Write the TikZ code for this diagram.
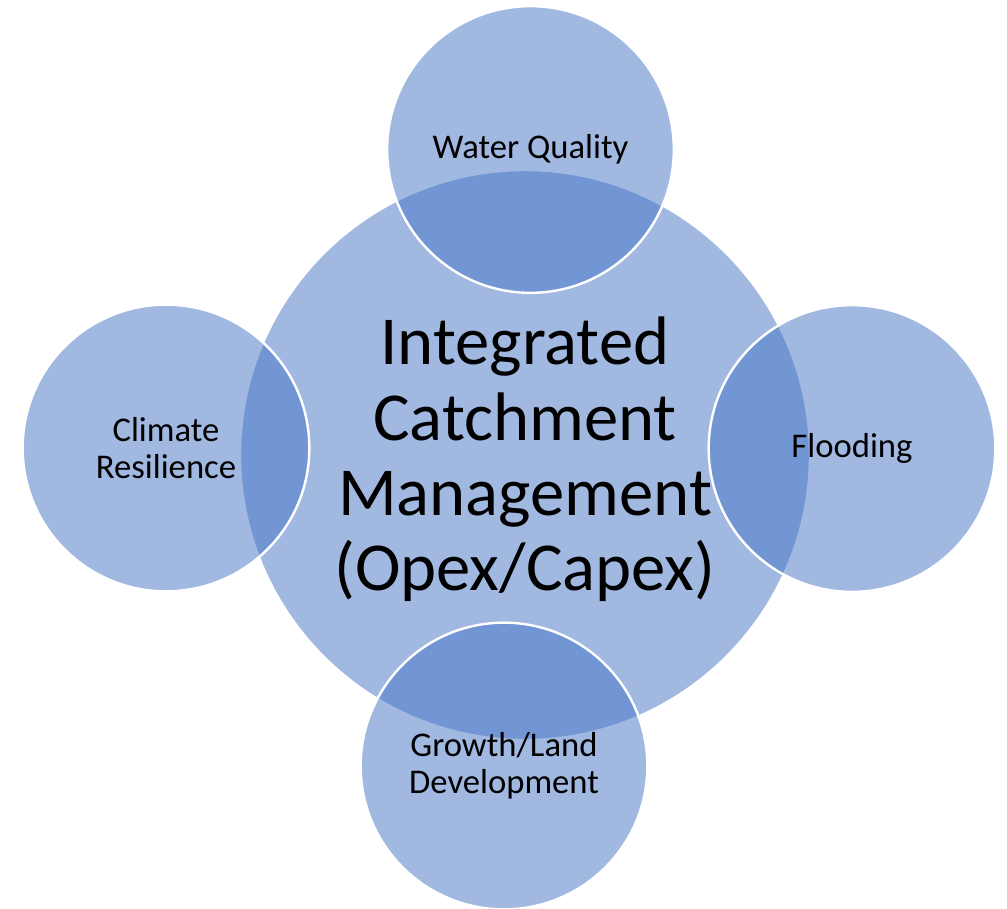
\documentclass[tikz,border=0pt]{standalone}
\usepackage{fontspec}
\setmainfont{Carlito}
\definecolor{catblue}{HTML}{4472C4}
\tikzset{
  bubble/.style={circle, fill=catblue, fill opacity=0.5, text opacity=1,
    draw=white, line width=1.8pt, inner sep=0pt, align=center},
  hubtext/.style={font=\fontsize{51.5}{56.5}\selectfont, align=center},
  leaftext/.style={font=\fontsize{26}{28}\selectfont},
}
\begin{document}
\begin{tikzpicture}[x=0.75pt,y=-0.75pt]
\useasboundingbox (0,0) rectangle (1007,908);

% hub
\node[bubble, minimum size=427.5pt] (hub) at (525,455) {};
\node[hubtext] (hubname) at ([yshift=-3.5pt]hub.center)
  {Integrated\\Catchment\\Management\\(Opex/Capex)};

% satellites
\node[bubble, leaftext, minimum size=215pt] (quality) at (530.5,149.5) {Water Quality};
\node[bubble, leaftext, minimum size=215pt] (flood) at (852,448.5) {Flooding};
\node[bubble, leaftext, minimum size=215pt] (growth) at (504,766) {Growth/Land\\Development};
\node[bubble, leaftext, minimum size=215pt] (climate) at (166,448) {Climate\\Resilience};
\end{tikzpicture}
\end{document}
